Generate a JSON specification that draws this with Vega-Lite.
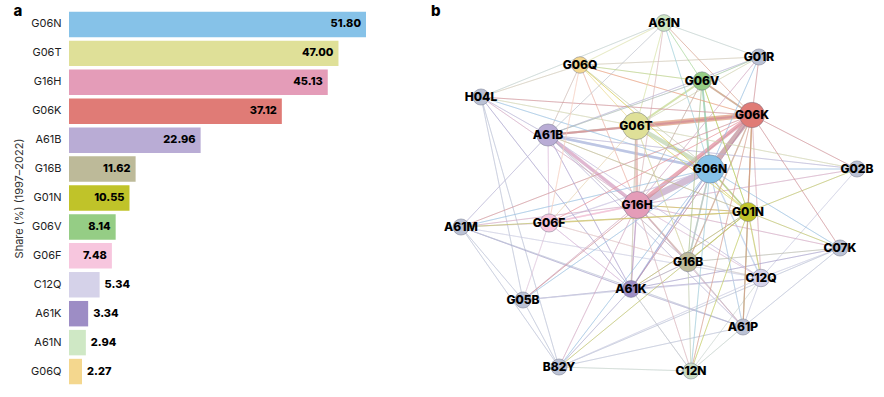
{
  "$schema": "https://vega.github.io/schema/vega-lite/v6.json",
  "padding": {"left": 13, "top": 4, "right": 0, "bottom": 0},
  "background": "white",
  "config": {
    "view": {"stroke": null},
    "font": "Inter",
    "title": {"fontSize": 15, "fontWeight": 800, "color": "#000", "anchor": "start", "frame": "bounds", "offset": -9, "baseline": "alphabetic"}
  },
  "datasets": {
    "bars": [
      {"code": "G06N", "share": 51.80},
      {"code": "G06T", "share": 47.00},
      {"code": "G16H", "share": 45.13},
      {"code": "G06K", "share": 37.12},
      {"code": "A61B", "share": 22.96},
      {"code": "G16B", "share": 11.62},
      {"code": "G01N", "share": 10.55},
      {"code": "G06V", "share": 8.14},
      {"code": "G06F", "share": 7.48},
      {"code": "C12Q", "share": 5.34},
      {"code": "A61K", "share": 3.34},
      {"code": "A61N", "share": 2.94},
      {"code": "G06Q", "share": 2.27}
    ],
    "nodes": [
      {"id": "G06N", "x": 279, "y": 159, "share": 51.80},
      {"id": "G06T", "x": 205, "y": 116, "share": 47.00},
      {"id": "G16H", "x": 206, "y": 195, "share": 45.13},
      {"id": "G06K", "x": 321, "y": 105, "share": 37.12},
      {"id": "A61B", "x": 117, "y": 125, "share": 22.96},
      {"id": "G16B", "x": 257, "y": 252, "share": 11.62},
      {"id": "G01N", "x": 317, "y": 202, "share": 10.55},
      {"id": "G06V", "x": 271, "y": 71, "share": 8.14},
      {"id": "G06F", "x": 118, "y": 213, "share": 7.48},
      {"id": "C12Q", "x": 330, "y": 268, "share": 5.34},
      {"id": "A61K", "x": 200, "y": 279, "share": 3.34},
      {"id": "A61N", "x": 233, "y": 13, "share": 2.94},
      {"id": "G06Q", "x": 149, "y": 55, "share": 2.27},
      {"id": "G01R", "x": 328, "y": 47, "share": 1},
      {"id": "H04L", "x": 50, "y": 87, "share": 1},
      {"id": "G02B", "x": 426, "y": 159, "share": 1},
      {"id": "A61M", "x": 30, "y": 217, "share": 1},
      {"id": "C07K", "x": 409, "y": 238, "share": 1},
      {"id": "G05B", "x": 92, "y": 290, "share": 1},
      {"id": "A61P", "x": 312, "y": 317, "share": 1},
      {"id": "B82Y", "x": 128, "y": 357, "share": 1},
      {"id": "C12N", "x": 260, "y": 361, "share": 1}
    ],
    "edges": [
      {"s": "G06N", "t": "G16H", "w": 10},
      {"s": "G06N", "t": "G06K", "w": 8},
      {"s": "G06T", "t": "G06K", "w": 8},
      {"s": "G06K", "t": "G16H", "w": 6},
      {"s": "G06N", "t": "G06T", "w": 6},
      {"s": "G06N", "t": "A61B", "w": 4},
      {"s": "A61B", "t": "G16H", "w": 5},
      {"s": "G06T", "t": "G16H", "w": 4},
      {"s": "A61B", "t": "G06T", "w": 3},
      {"s": "A61B", "t": "G06K", "w": 3},
      {"s": "G06V", "t": "G06T", "w": 2.5},
      {"s": "G06V", "t": "G06K", "w": 2},
      {"s": "G06N", "t": "G01N", "w": 2},
      {"s": "G06N", "t": "G16B", "w": 2},
      {"s": "G06N", "t": "G06V", "w": 2.5},
      {"s": "G16H", "t": "G16B", "w": 2},
      {"s": "G16H", "t": "G01N", "w": 1.5},
      {"s": "G06K", "t": "G01N", "w": 1.5},
      {"s": "G06N", "t": "G06F", "w": 1.5},
      {"s": "G16H", "t": "G06F", "w": 2},
      {"s": "A61B", "t": "G06F", "w": 1},
      {"s": "G06N", "t": "C12Q", "w": 1.5},
      {"s": "G06N", "t": "A61K", "w": 1.5},
      {"s": "G16H", "t": "A61K", "w": 1.5},
      {"s": "G16H", "t": "C12Q", "w": 1},
      {"s": "G06K", "t": "C12Q", "w": 1},
      {"s": "G06K", "t": "G16B", "w": 1.5},
      {"s": "G06K", "t": "A61K", "w": 1},
      {"s": "G06N", "t": "A61P", "w": 1},
      {"s": "G06N", "t": "G06Q", "w": 1},
      {"s": "G06T", "t": "G06Q", "w": 1},
      {"s": "G06Q", "t": "G06K", "w": 1},
      {"s": "G06Q", "t": "G16H", "w": 1},
      {"s": "G06Q", "t": "A61B", "w": 1},
      {"s": "G06Q", "t": "A61N", "w": 1},
      {"s": "G06Q", "t": "G01R", "w": 1},
      {"s": "G06Q", "t": "H04L", "w": 1},
      {"s": "A61N", "t": "G06N", "w": 1},
      {"s": "A61N", "t": "G06K", "w": 1},
      {"s": "A61N", "t": "G01R", "w": 1},
      {"s": "A61N", "t": "G16H", "w": 1},
      {"s": "A61N", "t": "G06T", "w": 1},
      {"s": "A61N", "t": "A61B", "w": 1},
      {"s": "A61N", "t": "G06V", "w": 1},
      {"s": "A61N", "t": "H04L", "w": 1},
      {"s": "G01R", "t": "G06K", "w": 1},
      {"s": "G01R", "t": "G06N", "w": 1},
      {"s": "G01R", "t": "A61B", "w": 1},
      {"s": "G01R", "t": "G06T", "w": 1},
      {"s": "G01R", "t": "G16H", "w": 1},
      {"s": "G01R", "t": "G06V", "w": 1},
      {"s": "H04L", "t": "A61B", "w": 1},
      {"s": "H04L", "t": "G06N", "w": 1},
      {"s": "H04L", "t": "G06K", "w": 1},
      {"s": "H04L", "t": "G16H", "w": 1},
      {"s": "H04L", "t": "G06T", "w": 1},
      {"s": "H04L", "t": "A61K", "w": 1},
      {"s": "H04L", "t": "B82Y", "w": 1},
      {"s": "H04L", "t": "G05B", "w": 1},
      {"s": "G02B", "t": "G06K", "w": 1},
      {"s": "G02B", "t": "G06N", "w": 1},
      {"s": "G02B", "t": "G16H", "w": 1},
      {"s": "G02B", "t": "G01N", "w": 1},
      {"s": "G02B", "t": "G06T", "w": 1},
      {"s": "G02B", "t": "A61B", "w": 1},
      {"s": "G02B", "t": "C12Q", "w": 1},
      {"s": "A61M", "t": "G06F", "w": 1},
      {"s": "A61M", "t": "G16H", "w": 1},
      {"s": "A61M", "t": "G06N", "w": 1},
      {"s": "A61M", "t": "A61B", "w": 1},
      {"s": "A61M", "t": "G06K", "w": 1},
      {"s": "A61M", "t": "A61K", "w": 1},
      {"s": "A61M", "t": "G05B", "w": 1},
      {"s": "A61M", "t": "B82Y", "w": 1},
      {"s": "A61M", "t": "C12Q", "w": 1},
      {"s": "A61M", "t": "A61P", "w": 1},
      {"s": "A61M", "t": "G01N", "w": 1},
      {"s": "C07K", "t": "G01N", "w": 1},
      {"s": "C07K", "t": "C12Q", "w": 1},
      {"s": "C07K", "t": "G16B", "w": 1},
      {"s": "C07K", "t": "G06N", "w": 1},
      {"s": "C07K", "t": "G06K", "w": 1},
      {"s": "C07K", "t": "A61K", "w": 1},
      {"s": "C07K", "t": "A61P", "w": 1},
      {"s": "C07K", "t": "B82Y", "w": 1},
      {"s": "C07K", "t": "G16H", "w": 1},
      {"s": "G16B", "t": "G01N", "w": 1},
      {"s": "G16B", "t": "C12Q", "w": 1.5},
      {"s": "G16B", "t": "A61K", "w": 1},
      {"s": "G16B", "t": "A61P", "w": 1},
      {"s": "G16B", "t": "C12N", "w": 1},
      {"s": "G16B", "t": "G06T", "w": 1},
      {"s": "G16B", "t": "A61B", "w": 1},
      {"s": "G16B", "t": "G06F", "w": 1},
      {"s": "C12Q", "t": "G01N", "w": 1.5},
      {"s": "C12Q", "t": "A61P", "w": 1},
      {"s": "C12Q", "t": "C12N", "w": 1},
      {"s": "C12Q", "t": "A61K", "w": 1},
      {"s": "C12Q", "t": "A61B", "w": 1},
      {"s": "A61K", "t": "A61P", "w": 1},
      {"s": "A61K", "t": "G05B", "w": 1},
      {"s": "A61K", "t": "B82Y", "w": 1},
      {"s": "A61K", "t": "A61B", "w": 1},
      {"s": "A61K", "t": "G06T", "w": 1},
      {"s": "A61K", "t": "G01N", "w": 1},
      {"s": "A61K", "t": "G06F", "w": 1},
      {"s": "A61K", "t": "C12N", "w": 1},
      {"s": "G05B", "t": "G06F", "w": 1},
      {"s": "G05B", "t": "G06N", "w": 1},
      {"s": "G05B", "t": "G16H", "w": 1},
      {"s": "G05B", "t": "G06K", "w": 1},
      {"s": "G05B", "t": "B82Y", "w": 1},
      {"s": "G05B", "t": "C12Q", "w": 1},
      {"s": "A61P", "t": "G01N", "w": 1.5},
      {"s": "A61P", "t": "G16H", "w": 1},
      {"s": "A61P", "t": "G06K", "w": 1},
      {"s": "A61P", "t": "C12N", "w": 1},
      {"s": "A61P", "t": "A61B", "w": 1},
      {"s": "B82Y", "t": "G06N", "w": 1},
      {"s": "B82Y", "t": "G16H", "w": 1},
      {"s": "B82Y", "t": "G01N", "w": 1},
      {"s": "B82Y", "t": "C12N", "w": 1},
      {"s": "B82Y", "t": "C12Q", "w": 1},
      {"s": "B82Y", "t": "A61P", "w": 1},
      {"s": "C12N", "t": "G01N", "w": 1},
      {"s": "C12N", "t": "G06N", "w": 1},
      {"s": "C12N", "t": "G16H", "w": 1},
      {"s": "C12N", "t": "G06K", "w": 1},
      {"s": "G01N", "t": "G06T", "w": 1},
      {"s": "G01N", "t": "A61B", "w": 1},
      {"s": "G06F", "t": "G06T", "w": 1},
      {"s": "G06F", "t": "G06K", "w": 1},
      {"s": "G06F", "t": "G01N", "w": 1},
      {"s": "G06V", "t": "G16H", "w": 1},
      {"s": "G06V", "t": "A61B", "w": 1},
      {"s": "G06V", "t": "G01N", "w": 1},
      {"s": "G06V", "t": "G16B", "w": 1},
      {"s": "G06Q", "t": "G06V", "w": 1},
      {"s": "G06Q", "t": "G06F", "w": 1},
      {"s": "G06Q", "t": "G01N", "w": 1}
    ]
  },
  "spacing": 65,
  "hconcat": [
    {
      "title": {"text": "a"},
      "width": 297,
      "height": 376,
      "data": {"name": "bars"},
      "encoding": {
        "y": {
          "field": "code", "type": "nominal", "sort": null,
          "scale": {"paddingInner": 0.12, "paddingOuter": 0.06},
          "axis": {
            "title": "Share (%) (1997–2022)", "titleFontWeight": "normal", "titleFontSize": 11, "titleColor": "#333",
            "labelFontSize": 11, "labelColor": "#222", "domain": false, "ticks": false, "labelPadding": 8, "titlePadding": 6
          }
        },
        "x": {"field": "share", "type": "quantitative", "scale": {"domain": [0, 51.8]}, "axis": null}
      },
      "layer": [
        {
          "mark": {"type": "bar"},
          "encoding": {
            "color": {
              "field": "code", "type": "nominal", "legend": null,
              "scale": {
                "domain": ["G06N","G06T","G16H","G06K","A61B","G16B","G01N","G06V","G06F","C12Q","A61K","A61N","G06Q","G01R","H04L","G02B","A61M","C07K","G05B","A61P","B82Y","C12N"],
                "range": ["#86c2e8","#dfe098","#e49cb8","#e07b76","#b9acd5","#bdba99","#c0c329","#95cd85","#f7c6de","#d5d2e9","#9d8dc5","#cfe8c5","#f4d78e","#bac1d4","#bac1d4","#bac1d4","#bac1d4","#bac1d4","#bac1d4","#bac1d4","#bac1d4","#cadcc4"]
              }
            }
          }
        },
        {
          "transform": [{"filter": "datum.share >= 7"}],
          "mark": {"type": "text", "align": "right", "dx": -5, "fontSize": 11, "fontWeight": 800, "color": "#000"},
          "encoding": {"text": {"field": "share", "type": "quantitative", "format": ".2f"}}
        },
        {
          "transform": [{"filter": "datum.share < 7"}],
          "mark": {"type": "text", "align": "left", "dx": 5, "fontSize": 11, "fontWeight": 800, "color": "#000"},
          "encoding": {"text": {"field": "share", "type": "quantitative", "format": ".2f"}}
        }
      ]
    },
    {
      "title": {"text": "b"},
      "width": 448,
      "height": 376,
      "layer": [
        {
          "data": {"name": "edges"},
          "transform": [
            {"lookup": "s", "from": {"data": {"name": "nodes"}, "key": "id", "fields": ["x", "y"]}, "as": ["sx", "sy"]},
            {"lookup": "t", "from": {"data": {"name": "nodes"}, "key": "id", "fields": ["x", "y"]}, "as": ["tx", "ty"]},
            {"fold": ["s", "t"], "as": ["end", "cnode"]}
          ],
          "mark": {"type": "rule", "opacity": 0.5},
          "encoding": {
            "x": {"field": "sx", "type": "quantitative", "scale": {"domain": [0, 448]}, "axis": null},
            "y": {"field": "sy", "type": "quantitative", "scale": {"domain": [0, 376], "reverse": true}, "axis": null},
            "x2": {"field": "tx"},
            "y2": {"field": "ty"},
            "color": {
              "field": "cnode", "type": "nominal", "legend": null,
              "scale": {
                "domain": ["G06N","G06T","G16H","G06K","A61B","G16B","G01N","G06V","G06F","C12Q","A61K","A61N","G06Q","G01R","H04L","G02B","A61M","C07K","G05B","A61P","B82Y","C12N"],
                "range": ["#86c2e8","#dfe098","#e49cb8","#e07b76","#b9acd5","#bdba99","#c0c329","#95cd85","#f7c6de","#d5d2e9","#9d8dc5","#cfe8c5","#f4d78e","#bac1d4","#bac1d4","#bac1d4","#bac1d4","#bac1d4","#bac1d4","#bac1d4","#bac1d4","#cadcc4"]
              }
            },
            "strokeWidth": {"field": "w", "type": "quantitative", "scale": {"domain": [1, 10], "range": [0.9, 6.5]}, "legend": null}
          }
        },
        {
          "data": {"name": "nodes"},
          "mark": {"type": "circle", "opacity": 1, "stroke": "#6f7488", "strokeWidth": 0.8, "strokeOpacity": 0.6},
          "encoding": {
            "x": {"field": "x", "type": "quantitative", "scale": {"domain": [0, 448]}, "axis": null},
            "y": {"field": "y", "type": "quantitative", "scale": {"domain": [0, 376], "reverse": true}, "axis": null},
            "size": {"field": "share", "type": "quantitative", "scale": {"domain": [0, 52], "range": [250, 800]}, "legend": null},
            "color": {
              "field": "id", "type": "nominal", "legend": null,
              "scale": {
                "domain": ["G06N","G06T","G16H","G06K","A61B","G16B","G01N","G06V","G06F","C12Q","A61K","A61N","G06Q","G01R","H04L","G02B","A61M","C07K","G05B","A61P","B82Y","C12N"],
                "range": ["#86c2e8","#dfe098","#e49cb8","#e07b76","#b9acd5","#bdba99","#c0c329","#95cd85","#f7c6de","#d5d2e9","#9d8dc5","#cfe8c5","#f4d78e","#bac1d4","#bac1d4","#bac1d4","#bac1d4","#bac1d4","#bac1d4","#bac1d4","#bac1d4","#cadcc4"]
              }
            }
          }
        },
        {
          "data": {"name": "nodes"},
          "mark": {"type": "text", "fontSize": 12, "fontWeight": 800, "color": "#000"},
          "encoding": {
            "x": {"field": "x", "type": "quantitative", "scale": {"domain": [0, 448]}, "axis": null},
            "y": {"field": "y", "type": "quantitative", "scale": {"domain": [0, 376], "reverse": true}, "axis": null},
            "text": {"field": "id"}
          }
        }
      ]
    }
  ]
}
